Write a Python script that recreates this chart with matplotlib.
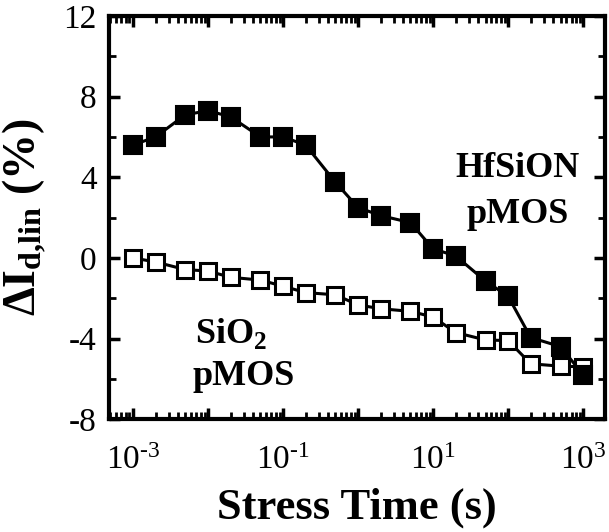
import numpy as np
import matplotlib
matplotlib.use('Agg')
import matplotlib.pyplot as plt
from matplotlib.ticker import LogLocator, FuncFormatter, MultipleLocator, NullFormatter

plt.rcParams['font.family'] = ['Liberation Serif', 'DejaVu Serif']
plt.rcParams['mathtext.fontset'] = 'custom'
plt.rcParams['mathtext.rm'] = 'Liberation Serif'
plt.rcParams['mathtext.bf'] = 'Liberation Serif:bold'
plt.rcParams['axes.unicode_minus'] = False

# stress times (s)
t = [1e-3, 2e-3, 5e-3, 1e-2, 2e-2, 5e-2, 0.1, 0.2, 0.5, 1, 2, 5,
     10, 20, 50, 100, 200, 500, 1000]
# delta Id,lin (%)
hfsion = [5.6, 6.0, 7.1, 7.3, 7.0, 6.0, 6.0, 5.6, 3.75, 2.5, 2.1, 1.75,
          0.45, 0.1, -1.15, -1.9, -3.95, -4.4, -5.8]
sio2 = [0.0, -0.2, -0.58, -0.65, -0.96, -1.1, -1.4, -1.72, -1.83, -2.33,
        -2.52, -2.65, -2.93, -3.7, -4.07, -4.1, -5.25, -5.37, -5.4]

fig = plt.figure(figsize=(6.09, 5.32), dpi=100)
ax = fig.add_axes([0.179, 0.212, 0.814, 0.758])

ax.plot(t, hfsion, color='k', lw=2.2, marker='s', ms=13,
        mfc='k', mec='k', mew=1.5, zorder=3)
ax.plot(t, sio2, color='k', lw=2.2, marker='s', ms=12,
        mfc='white', mec='k', mew=2.2, zorder=2)

ax.set_xscale('log')
ax.set_xlim(4.8e-4, 1.94e3)
ax.set_ylim(-8, 12)

ax.xaxis.set_major_locator(LogLocator(base=10, numticks=20))
ax.xaxis.set_minor_locator(LogLocator(base=10, subs=np.arange(2, 10), numticks=20))
ax.xaxis.set_minor_formatter(NullFormatter())

def xfmt(v, pos):
    e = int(round(np.log10(v)))
    if e % 2 == 0 or e < -3 or e > 3:
        return ''
    if e < 0:
        return '$\\mathdefault{10^{\u2010%d}}$' % (-e)
    return r'$\mathdefault{10^{%d}}$' % e

ax.xaxis.set_major_formatter(FuncFormatter(xfmt))
ax.yaxis.set_major_locator(MultipleLocator(4))
ax.yaxis.set_minor_locator(MultipleLocator(2))

for s in ax.spines.values():
    s.set_linewidth(3)

ax.tick_params(which='both', direction='in', top=True, right=True, labelsize=24)
ax.tick_params(which='major', length=8, width=2.5)
ax.tick_params(which='minor', length=5, width=2)
ax.tick_params(axis='x', which='major', pad=19)
ax.tick_params(axis='y', which='major', pad=9)

ax.set_xlabel('Stress Time (s)', fontsize=32, fontweight='bold')
ax.xaxis.set_label_coords(0.5, -0.17)
ax.set_ylabel(r'$\mathbf{\Delta I_{d{,}lin}}$ (%)', fontsize=33, fontweight='bold')
ax.yaxis.set_label_coords(-0.125, 0.5)

ax.text(0.825, 0.600, 'HfSiON', transform=ax.transAxes, ha='center',
        va='baseline', fontsize=26, fontweight='bold')
ax.text(0.825, 0.486, 'pMOS', transform=ax.transAxes, ha='center',
        va='baseline', fontsize=26, fontweight='bold')
ax.text(0.173, 0.189, r'SiO$_\mathbf{2}$', transform=ax.transAxes, ha='left',
        va='baseline', fontsize=26, fontweight='bold')
ax.text(0.169, 0.084, 'pMOS', transform=ax.transAxes, ha='left',
        va='baseline', fontsize=26, fontweight='bold')

fig.savefig('out.png', dpi=100)
